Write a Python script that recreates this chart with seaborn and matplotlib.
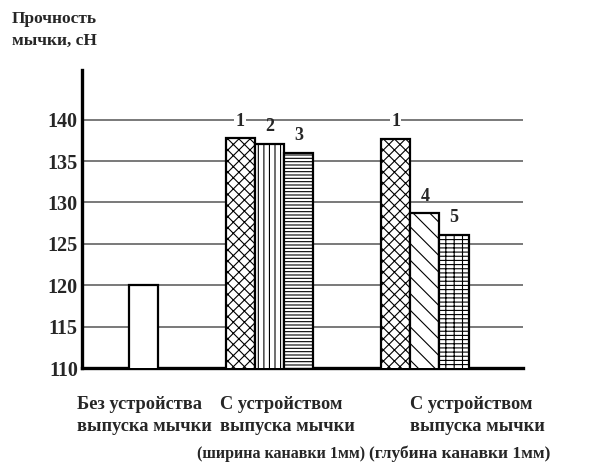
import matplotlib
matplotlib.use("Agg")
import matplotlib.pyplot as plt
import seaborn as sns
import pandas as pd

# данные
group_names = [
    ["Без устройства", "выпуска мычки"],
    ["С устройством", "выпуска мычки", "(ширина канавки 1мм)"],
    ["С устройством", "выпуска мычки", "(глубина канавки 1мм)"],
]
group_values = [[120.0], [137.8, 137.1, 136.0], [137.7, 128.7, 126.1]]
bar_ids = [[""], ["1", "2", "3"], ["1", "4", "5"]]
hatches = {"": "", "1": "xxx", "2": "|||", "3": "-----", "4": "\\\\", "5": "++--"}
y_ticks = [110, 115, 120, 125, 130, 135, 140]

sns.set_style("white")
plt.rcParams["font.family"] = ["Liberation Serif", "DejaVu Serif"]
plt.rcParams["font.weight"] = "bold"
plt.rcParams["hatch.linewidth"] = 0.8

# раскладка: столбцы внутри группы вплотную, между группами промежуток
gap = 2.3
rows = []
pos = 0.0
for g, (vals, ids) in enumerate(zip(group_values, bar_ids)):
    for v, b in zip(vals, ids):
        rows.append({"x": pos, "value": v, "id": b, "group": g})
        pos += 1.0
    pos += gap
df = pd.DataFrame(rows)

fig = plt.figure(figsize=(5.93, 4.62), dpi=100)
ax = fig.add_axes([82 / 593, 1 - 368 / 462, (523 - 82) / 593, (368 - 70) / 462])

sns.barplot(data=df, x="x", y="value", native_scale=True, width=1.0,
            color="white", edgecolor="black", linewidth=1.6, ax=ax, zorder=3)

for patch, b in zip(ax.patches, df["id"]):
    patch.set_hatch(hatches[b])
    patch.set_edgecolor("black")

ax.set_ylim(110, 146)
ax.set_xlim(-2.1, 12.95)
ax.set_yticks(y_ticks)
ax.set_yticklabels([str(t) for t in y_ticks], fontsize=14.5, fontweight="bold")
ax.tick_params(axis="y", length=0, pad=3)
ax.set_xticks([])
ax.set_xlabel("")
ax.set_ylabel("")
ax.yaxis.grid(True, color="#555555", linewidth=1.1, zorder=0)
ax.set_axisbelow(True)

for s in ["top", "right"]:
    ax.spines[s].set_visible(False)
ax.spines["left"].set_linewidth(2.4)
ax.spines["bottom"].set_linewidth(2.4)
ax.spines["left"].set_color("black")
ax.spines["bottom"].set_color("black")

# номера столбцов
for _, r in df.iterrows():
    if r["id"] == "":
        continue
    bbox = dict(facecolor="white", edgecolor="none", pad=1.0) if r["id"] == "1" else None
    ax.annotate(r["id"], (r["x"], r["value"]), xytext=(0, 6), textcoords="offset points",
                ha="center", va="bottom", fontsize=13, fontweight="bold", bbox=bbox, zorder=4)

# подпись оси
fig.text(12 / 593, 1 - 11 / 462, "Прочность\nмычки, сН", ha="left", va="top",
         fontsize=12.5, fontweight="bold", linespacing=1.5)

# подписи групп
fs = 13.2
ls = 1.38
fig.text(77 / 593, 1 - 396 / 462, "\n".join(group_names[0]), ha="left", va="top",
         fontsize=fs, fontweight="bold", linespacing=ls)
fig.text(220 / 593, 1 - 396 / 462, "\n".join(group_names[1][:2]), ha="left", va="top",
         fontsize=fs, fontweight="bold", linespacing=ls)
fig.text(197 / 593, 1 - 446 / 462, group_names[1][2], ha="left", va="top",
         fontsize=11.5, fontweight="bold")
fig.text(410 / 593, 1 - 396 / 462, "\n".join(group_names[2][:2]), ha="left", va="top",
         fontsize=fs, fontweight="bold", linespacing=ls)
fig.text(369 / 593, 1 - 446 / 462, group_names[2][2], ha="left", va="top",
         fontsize=12.5, fontweight="bold")

fig.savefig("out.png", dpi=100)
